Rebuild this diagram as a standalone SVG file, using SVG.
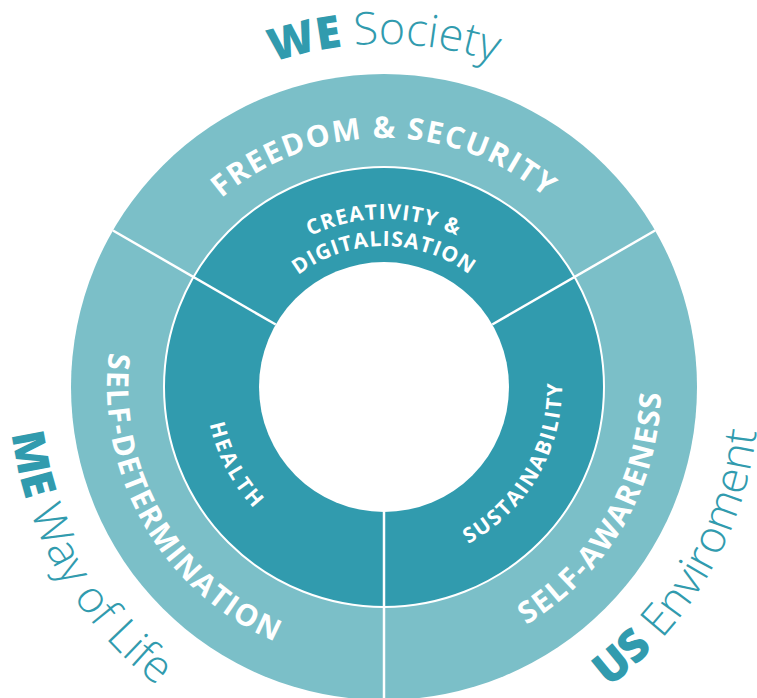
<svg xmlns="http://www.w3.org/2000/svg" width="757" height="698" viewBox="0 0 757 698">
<style>
.outer{fill:#7bbfc8}
.mid{fill:#319bae;stroke:#fff;stroke-width:2}
.hole{fill:#fff}
.div{stroke:#fff;stroke-width:2.5;fill:none}
.lbl1{font-family:"Open Sans","Liberation Sans",sans-serif;font-weight:700;font-size:30px;fill:#fff;letter-spacing:1.7px}
.lbl2{font-family:"Open Sans","Liberation Sans",sans-serif;font-weight:700;font-size:21px;fill:#fff;letter-spacing:1.1px}
.cap{font-family:"Open Sans","Liberation Sans",sans-serif;font-size:45px;fill:#319bae}
.b{font-weight:800}
.l{font-weight:300}
</style>
<defs>
<path id="pFS" d="M135,387 A249,249 0 0 1 384,138 A249,249 0 0 1 633,387"/>
<path id="pSD" d="M245.5,147.1 A277,277 0 0 0 144.1,525.5 A277,277 0 0 0 522.5,626.9"/>
<path id="pSA" d="M245.5,626.9 A277,277 0 0 0 623.9,525.5 A277,277 0 0 0 522.5,147.1"/>
<path id="pCR" d="M216,387 A168,168 0 0 1 384,219 A168,168 0 0 1 552,387"/>
<path id="pDG" d="M243,387 A141,141 0 0 1 384,246 A141,141 0 0 1 525,387"/>
<path id="pHE" d="M295,232.85 A178,178 0 0 0 229.85,476 A178,178 0 0 0 473,541.15"/>
<path id="pSU" d="M295,541.15 A178,178 0 0 0 538.15,476 A178,178 0 0 0 473,232.85"/>
<path id="pWE" d="M41,387 A343,343 0 0 1 384,44 A343,343 0 0 1 727,387"/>
<path id="pME" d="M196.5,62.24 A375,375 0 0 0 59.24,574.5 A375,375 0 0 0 571.5,711.76"/>
<path id="pUS" d="M196.5,711.76 A375,375 0 0 0 708.76,574.5 A375,375 0 0 0 571.5,62.24"/>
</defs>
<g id="outer-ring">
<circle class="outer" cx="384" cy="387" r="313"/>
</g>
<g id="middle-ring">
<circle class="mid" cx="384" cy="387" r="220"/>
</g>
<g id="center">
<circle class="hole" cx="384" cy="387" r="125"/>
</g>
<g id="connectors">
<line class="div" x1="275.75" y1="324.5" x2="112.93" y2="230.5"/>
<line class="div" x1="492.25" y1="324.5" x2="655.07" y2="230.5"/>
<line class="div" x1="384" y1="512" x2="384" y2="700"/>
</g>
<g id="freedom-security">
<text class="lbl1" text-anchor="middle"><textPath href="#pFS" startOffset="50%">FREEDOM &amp; SECURITY</textPath></text>
</g>
<g id="self-determination">
<text class="lbl1" text-anchor="middle"><textPath href="#pSD" startOffset="50%">SELF-DETERMINATION</textPath></text>
</g>
<g id="self-awareness">
<text class="lbl1" text-anchor="middle"><textPath href="#pSA" startOffset="50%">SELF-AWARENESS</textPath></text>
</g>
<g id="creativity-digitalisation">
<text class="lbl2" text-anchor="middle"><textPath href="#pCR" startOffset="50%">CREATIVITY &amp;</textPath></text>
<text class="lbl2" text-anchor="middle"><textPath href="#pDG" startOffset="50%">DIGITALISATION</textPath></text>
</g>
<g id="health">
<text class="lbl2" text-anchor="middle" style="letter-spacing:2.8px"><textPath href="#pHE" startOffset="273">HEALTH</textPath></text>
</g>
<g id="sustainability">
<text class="lbl2" text-anchor="middle" style="letter-spacing:2px"><textPath href="#pSU" startOffset="50%">SUSTAINABILITY</textPath></text>
</g>
<g id="we-society">
<text class="cap" text-anchor="middle"><textPath href="#pWE" startOffset="50%"><tspan class="b">WE</tspan><tspan class="l"> Society</tspan></textPath></text>
</g>
<g id="me-way-of-life">
<text class="cap" text-anchor="middle"><textPath href="#pME" startOffset="50%"><tspan class="b">ME</tspan><tspan class="l"> Way of Life</tspan></textPath></text>
</g>
<g id="us-enviroment">
<text class="cap" text-anchor="middle"><textPath href="#pUS" startOffset="50%"><tspan class="b">US</tspan><tspan class="l"> Enviroment</tspan></textPath></text>
</g>
</svg>
